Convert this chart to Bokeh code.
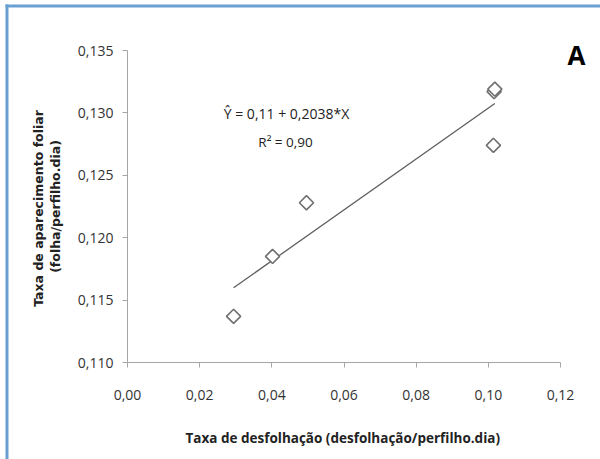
import math
from bokeh.plotting import figure
from bokeh.models import (Range1d, FixedTicker, CustomJSTickFormatter, Label,
                          BoxAnnotation)
from bokeh.embed import file_html
from bokeh.resources import INLINE

# data
x_vals = [0.0294, 0.0402, 0.0496, 0.1014, 0.1016, 0.1018]
y_vals = [0.1137, 0.1185, 0.1228, 0.1274, 0.1317, 0.1319]
x_ticks = [0.00, 0.02, 0.04, 0.06, 0.08, 0.10, 0.12]
y_ticks = [0.110, 0.115, 0.120, 0.125, 0.130, 0.135]
intercept = 0.11
slope = 0.2038
equation = "Ŷ = 0,11 + 0,2038*X"
r2_text = "R² = 0,90"
x_title = "Taxa de desfolhação  (desfolhação/perfilho.dia)"
y_title_1 = "Taxa de aparecimento foliar"
y_title_2 = "(folha/perfilho.dia)"
panel = "A"

# layout (pixels) of the axis box inside the 600x459 canvas
W, H = 600, 459
PX_L, PX_R, PX_T, PX_B = 127, 560, 50, 362
x0, x1 = x_ticks[0], x_ticks[-1]
y0, y1 = y_ticks[0], y_ticks[-1]
sx = (x1 - x0) / (PX_R - PX_L)
sy = (y1 - y0) / (PX_B - PX_T)
xr = Range1d(x0 - PX_L * sx, x1 + (W - PX_R) * sx)
yr = Range1d(y0 - (H - PX_B) * sy, y1 + PX_T * sy)

p = figure(width=W, height=H, output_backend="svg", toolbar_location=None,
           x_range=xr, y_range=yr, min_border=0)
p.outline_line_color = None
p.xgrid.visible = False
p.ygrid.visible = False
p.background_fill_color = "white"
p.border_fill_color = "white"

for ax, ticks, digits in ((p.xaxis[0], x_ticks, 2), (p.yaxis[0], y_ticks, 3)):
    ax.ticker = FixedTicker(ticks=ticks)
    ax.formatter = CustomJSTickFormatter(
        code="return tick.toFixed(%d).replace('.', ',');" % digits)
    ax.axis_line_color = "#a6a6a6"
    ax.major_tick_line_color = "#a6a6a6"
    ax.major_tick_in = 0
    ax.major_tick_out = 5
    ax.minor_tick_line_color = None
    ax.major_label_text_font = "Open Sans"
    ax.major_label_text_font_size = "14px"
    ax.major_label_text_color = "#333333"
p.xaxis[0].fixed_location = y0
p.xaxis[0].bounds = (x0, x1)
p.yaxis[0].fixed_location = x0
p.yaxis[0].bounds = (y0, y1)
p.xaxis[0].major_label_standoff = 22
p.yaxis[0].major_label_standoff = 9

# regression line over the observed x span
xl = [min(x_vals), max(x_vals)]
yl = [intercept + slope * v for v in xl]
p.line(xl, yl, line_color="#5e5e5e", line_width=1.3)

p.scatter(x_vals, y_vals, marker="square", angle=math.pi / 4, size=10,
          fill_color="white", line_color="#707070", line_width=1.6)

def lab(text, x, y, size, bold=False, angle=0.0, font="Open Sans", color="#222222"):
    p.add_layout(Label(x=x, y=y, x_units="canvas", y_units="canvas", text=text,
                       angle=angle, text_font=font, text_font_size=size,
                       text_font_style="bold" if bold else "normal",
                       text_align="center", text_baseline="middle",
                       text_color=color))

lab(equation, 286, 113, "14px")
lab(r2_text, 285, 141, "13.5px")
lab(panel, 576, 54, "26px", bold=True, color="black")
lab(x_title, 344, 437, "13.5px", bold=True)
lab(y_title_1, 38, 208, "12.5px", bold=True, angle=math.pi / 2, font="DejaVu Sans")
lab(y_title_2, 55, 206, "12.5px", bold=True, angle=math.pi / 2, font="DejaVu Sans")

# blue frame (left and top edges)
for l, r, t, b in ((5, 8, 4, H), (5, W, 4, 7)):
    p.add_layout(BoxAnnotation(left=l, right=r, top=t, bottom=b,
                               left_units="canvas", right_units="canvas",
                               top_units="canvas", bottom_units="canvas",
                               fill_color="#6a9fd4", fill_alpha=1, line_color=None))

open("out.html", "w").write(file_html(p, INLINE))
